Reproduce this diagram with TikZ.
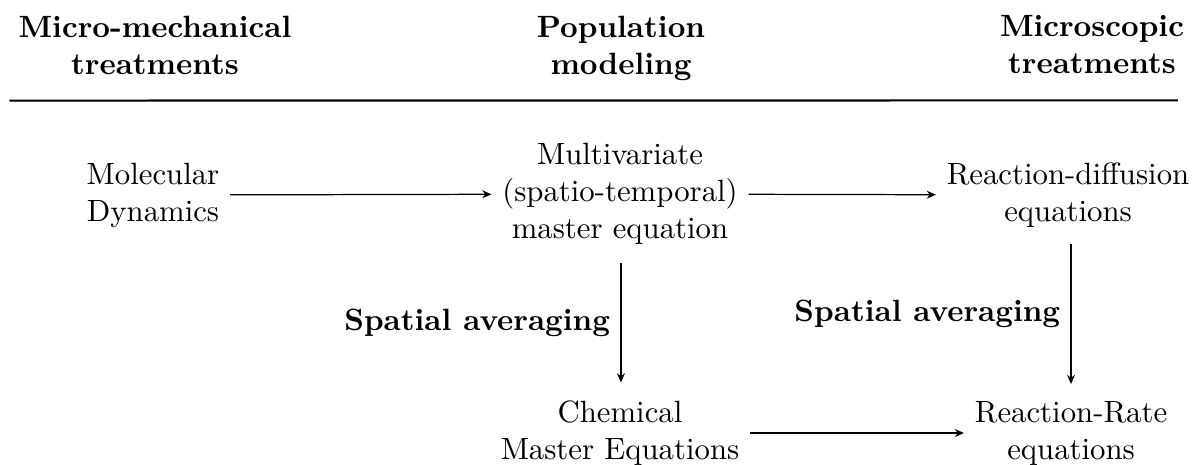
\documentclass[tikz,border=0pt]{standalone}
\usetikzlibrary{arrows.meta}
\tikzset{
  body/.style={align=center},
  head/.style={align=center, font=\bfseries, anchor=north},
  conn/.style={-{Stealth[length=3pt,width=2.6pt,inset=1pt]}},
  lab/.style={font=\bfseries}
}
\begin{document}
\begin{tikzpicture}[x=0.325pt, y=-0.325pt]
\useasboundingbox (0,0) rectangle (1196,464);
% headers
\node[head] (h1) at (155,5) {Micro-mechanical\\treatments};
\node[head] (h2) at (621,5) {Population\\modeling};
\node[head] (h3) at (1092,5) {Microscopic\\treatments};
\draw[line width=0.7pt, shorten <=0.5pt, shorten >=5.5pt] ([yshift=-5pt]h1.south west) -- ([yshift=-5pt]h3.south east);
% body nodes
\node[body] (md) at (153,195) {Molecular\\Dynamics};
\node[body] (mv) at (620,194) {Multivariate\\(spatio-temporal)\\master equation};
\node[body] (rd) at (1068,195) {Reaction-diffusion\\equations};
\node[body] (cm) at (620,433) {Chemical\\Master Equations};
\node[body] (rr) at (1071,433) {Reaction-Rate\\equations};
% connectors
\draw[conn] (md) -- (mv);
\draw[conn] (mv) -- (rd);
\draw[conn] (cm) -- (rr);
\draw[conn, shorten <=2.4pt, shorten >=2.4pt] ([xshift=0.3pt]mv.south) -- node[left, lab] {Spatial averaging} ([xshift=0.3pt]cm.north);
\draw[conn, shorten <=2pt, shorten >=2pt] (rd.south -| rr.south) -- node[left, lab] {Spatial averaging} (rr.north);
\end{tikzpicture}
\end{document}
